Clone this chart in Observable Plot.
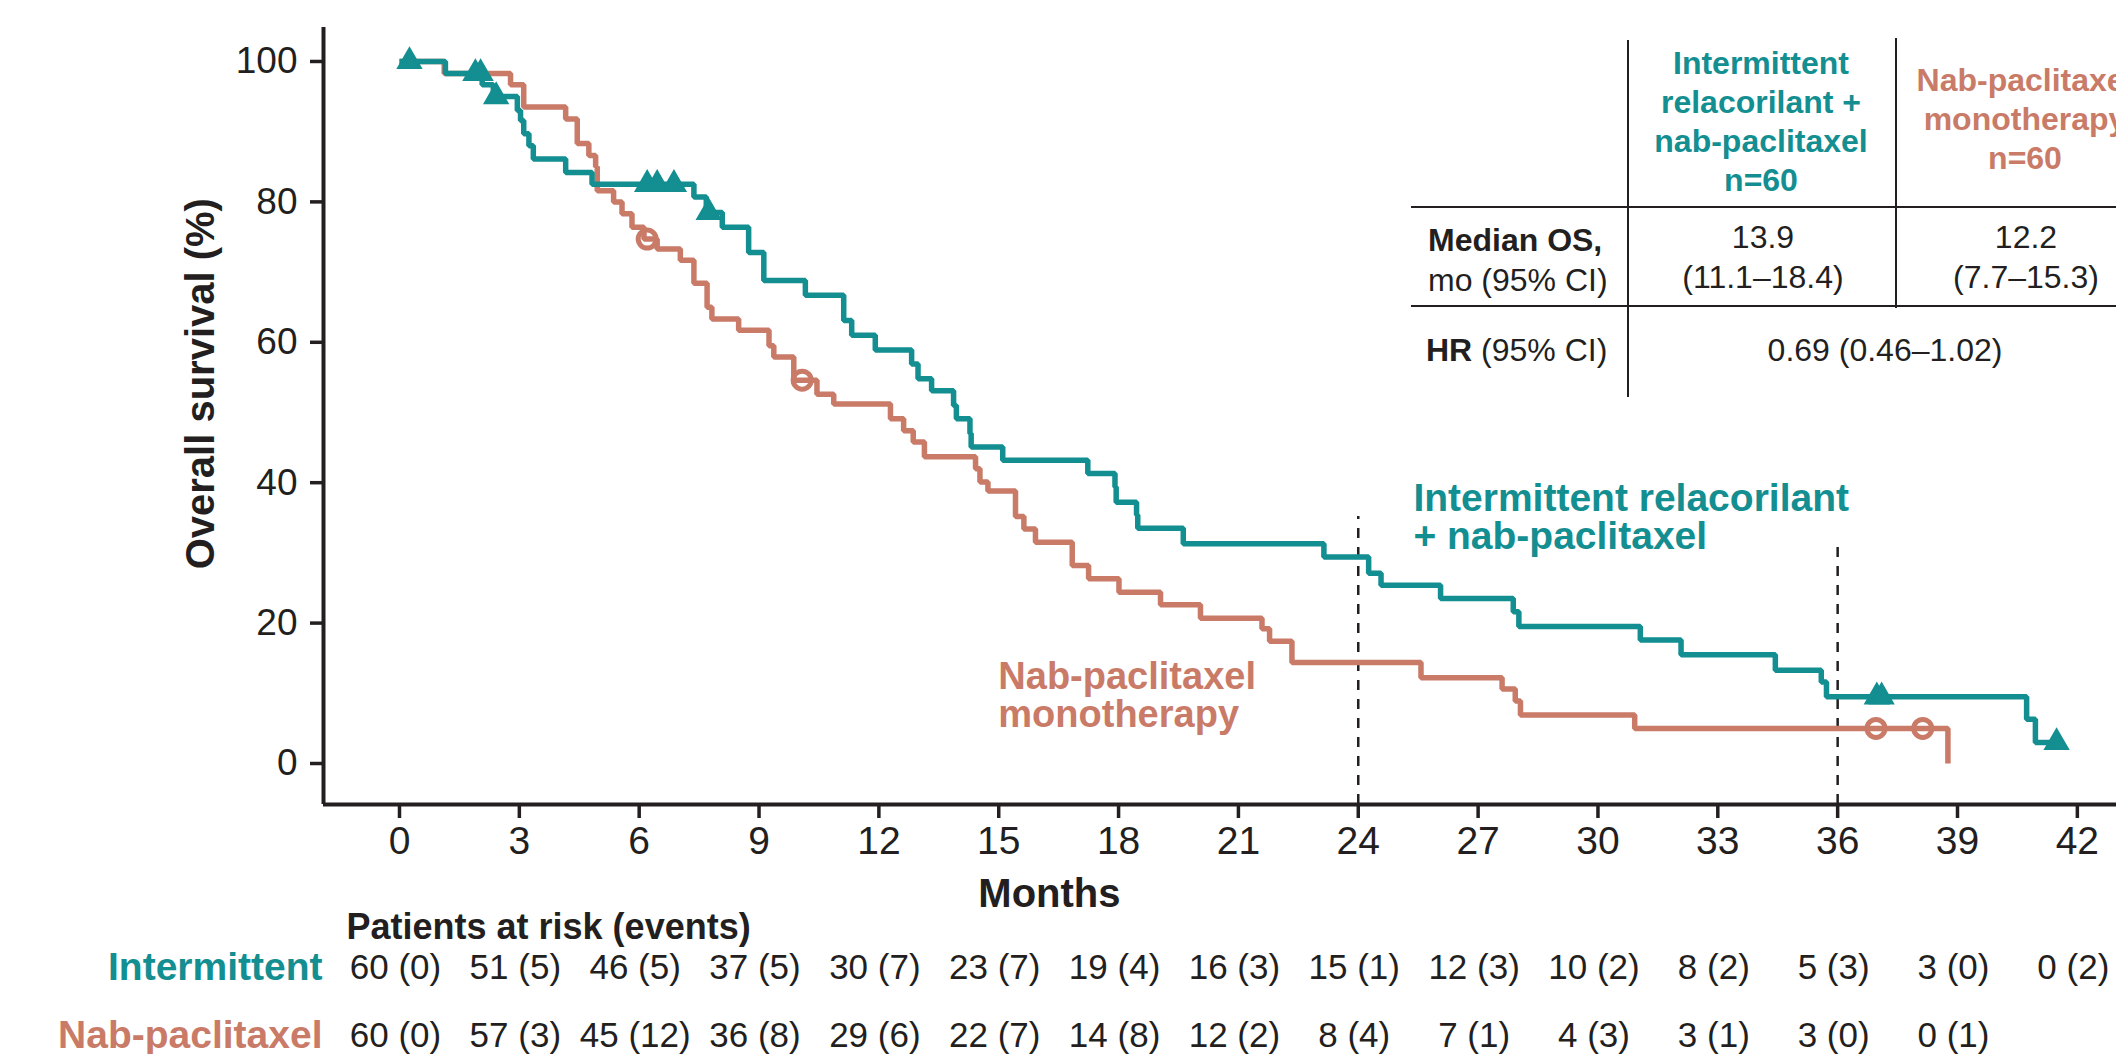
<!DOCTYPE html>
<html><head><meta charset="utf-8">
<script src="https://cdn.jsdelivr.net/npm/d3@7"></script>
<script src="https://cdn.jsdelivr.net/npm/@observablehq/plot@0.6"></script>
<style>
html,body{margin:0;padding:0;background:#fff;}
#wrap{position:relative;width:2116px;height:1054px;overflow:hidden;font-family:"Liberation Sans",Arial,Helvetica,sans-serif;color:#231f20;}
#wrap svg{position:absolute;left:0;top:0;}
</style></head><body><div id="wrap"></div>
<script>
// ---------- data ----------
const monthTicks = [0,3,6,9,12,15,18,21,24,27,30,33,36,39,42];
const survTicks = [0,20,40,60,80,100];

// Intermittent relacorilant + nab-paclitaxel: step times (months) and survival (%) after each step
const tealStepMonths = [1.15,2.07,2.35,2.95,3.03,3.11,3.24,3.35,4.16,4.82,7.37,7.68,8.08,8.74,9.12,10.16,11.12,11.32,11.91,12.82,12.98,13.32,13.87,13.94,14.28,14.31,15.1,17.23,17.91,17.94,18.45,18.48,19.62,23.14,24.26,24.57,26.06,27.88,28.02,31.06,32.08,34.44,35.59,35.72,40.73,40.95];
const tealStepSurv = [98.3,96.7,95.0,93.0,91.6,89.7,88.0,86.1,84.2,82.5,80.7,78.5,76.4,72.8,68.8,66.7,63.1,61.0,58.9,56.9,54.8,53.1,51.0,49.1,47.0,45.1,43.2,41.3,39.4,37.2,35.4,33.5,31.3,29.4,27.1,25.4,23.5,21.6,19.5,17.6,15.5,13.3,11.6,9.5,6.3,3.0];
const tealCensorMonths = [0.25,1.90,2.03,2.42,6.20,6.45,6.87,7.74,36.98,37.10,41.48];

// Nab-paclitaxel monotherapy
const salmonStepMonths = [1.12,2.78,3.11,4.16,4.45,4.74,4.91,4.95,5.36,5.57,5.82,6.12,6.45,7.03,7.37,7.70,7.82,8.49,9.25,9.37,9.87,10.45,10.87,12.29,12.62,12.86,13.14,14.42,14.53,14.73,15.42,15.63,15.92,16.84,17.25,18.01,19.05,20.05,21.59,21.78,22.34,25.57,27.60,27.93,28.06,30.92,38.76];
const salmonStepSurv = [98.3,96.7,93.5,91.8,88.3,86.6,85.0,81.6,80.0,78.3,76.4,74.7,73.3,71.7,68.4,65.0,63.3,61.7,59.5,57.9,54.6,52.6,51.2,49.1,47.4,45.8,43.7,42.0,40.1,38.8,35.2,33.4,31.5,28.2,26.3,24.4,22.6,20.7,19.2,17.4,14.4,12.2,10.6,8.9,6.9,5.0,0];
const salmonCensorMonths = [6.20,10.08,36.96,38.13];

// landmark lines (month, top %)
const landmarkMonths = [24,36];
const landmarkTops = [35.2,32.0];

// patients at risk (events)
const riskMonths = monthTicks;
const intermittentAtRisk = [60,51,46,37,30,23,19,16,15,12,10,8,5,3,0];
const intermittentEvents = [0,5,5,5,7,7,4,3,1,3,2,2,3,0,2];
const nabAtRisk = [60,57,45,36,29,22,14,12,8,7,4,3,3,0];
const nabEvents = [0,3,12,8,6,7,8,2,4,1,3,1,0,1];

// summary table
const armHeaders = ["Intermittent\nrelacorilant +\nnab-paclitaxel\nn=60", "Nab-paclitaxel\nmonotherapy\nn=60"];
const medianOS = ["13.9","12.2"];
const medianCI = ["(11.1–18.4)","(7.7–15.3)"];
const hrValue = "0.69 (0.46–1.02)";

// ---------- styling ----------
const TEAL = "#138e91", SALMON = "#c97b68", INK = "#231f20";
const FONT = '"Liberation Sans", Arial, Helvetica, sans-serif';
const xMin = -1.902, xMax = 42.98, yMin = -5.84, yMax = 104.84;

function stepPoints(ms, ss, endMonth) {
  const pts = [{t: 0, s: 100}];
  ms.forEach((t, i) => pts.push({t, s: ss[i]}));
  if (endMonth != null) pts.push({t: endMonth, s: ss[ss.length - 1]});
  return pts;
}
function levelAt(ms, ss, t) {
  let s = 100;
  for (let i = 0; i < ms.length; i++) if (ms[i] <= t) s = ss[i];
  return s;
}
const tealPts = stepPoints(tealStepMonths, tealStepSurv, tealCensorMonths[tealCensorMonths.length - 1]);
const salmonPts = stepPoints(salmonStepMonths, salmonStepSurv, null);
const tealCens = tealCensorMonths.map(t => ({t, s: levelAt(tealStepMonths, tealStepSurv, t)}));
const salmonCens = salmonCensorMonths.map(t => ({t, s: levelAt(salmonStepMonths, salmonStepSurv, t)}));
const landmarks = landmarkMonths.map((m, i) => ({m, top: landmarkTops[i]}));

const riskRow1 = intermittentAtRisk.map((n, i) => ({m: riskMonths[i], label: `${n} (${intermittentEvents[i]})`}));
const riskRow2 = nabAtRisk.map((n, i) => ({m: riskMonths[i], label: `${n} (${nabEvents[i]})`}));

const ROW_HEAD_Y = -23.36, ROW1_Y = -29.06, ROW2_Y = -38.75;

const chart = Plot.plot({
  width: 2116, height: 1054,
  marginLeft: 323, marginRight: 0, marginTop: 27, marginBottom: 250,
  style: {fontFamily: FONT, color: INK, background: "transparent", overflow: "visible"},
  x: {domain: [xMin, xMax], label: null},
  y: {domain: [yMin, yMax], label: null},
  marks: [
    Plot.ruleX(landmarks, {x: "m", y1: yMin, y2: "top", stroke: INK, strokeWidth: 2.5, strokeDasharray: "10,9"}),
    Plot.line(salmonPts, {x: "t", y: "s", curve: "step-after", stroke: SALMON, strokeWidth: 5.5, strokeLinejoin: "miter", strokeLinecap: "butt"}),
    Plot.line(tealPts, {x: "t", y: "s", curve: "step-after", stroke: TEAL, strokeWidth: 5.5, strokeLinejoin: "miter", strokeLinecap: "butt"}),
    Plot.dot(salmonCens, {x: "t", y: "s", r: 9, stroke: SALMON, strokeWidth: 5, fill: "none"}),
    Plot.dot(tealCens, {x: "t", y: "s", symbol: "triangle", r: 8.5, fill: TEAL, stroke: TEAL, strokeWidth: 2, strokeLinejoin: "miter"}),
    Plot.axisX({ticks: monthTicks, tickSize: 14, tickPadding: 8, fontSize: 39, strokeWidth: 3.5, tickFormat: d => String(d), label: null}),
    Plot.axisY({ticks: survTicks, tickSize: 13, tickPadding: 13, fontSize: 37, strokeWidth: 3.5, tickFormat: d => String(d), label: null}),
    Plot.ruleY([yMin], {stroke: INK, strokeWidth: 4}),
    Plot.ruleX([xMin], {stroke: INK, strokeWidth: 4}),
    // axis titles
    Plot.text([{x: xMin, y: 54.1, t: "Overall survival (%)"}], {x: "x", y: "y", text: "t", rotate: -90, dx: -122, fontSize: 40, fontWeight: "bold", fill: INK}),
    Plot.text([{x: 16.27, y: -20.51, t: "Months"}], {x: "x", y: "y", text: "t", lineAnchor: "bottom", fontSize: 40, fontWeight: "bold", fill: INK}),
    // curve labels
    Plot.text([{x: 25.38, y: 39.84, t: "Intermittent relacorilant\n+ nab-paclitaxel"}], {x: "x", y: "y", text: "t", textAnchor: "start", lineAnchor: "top", lineHeight: 0.98, fontSize: 39, fontWeight: "bold", fill: TEAL}),
    Plot.text([{x: 14.99, y: 14.43, t: "Nab-paclitaxel\nmonotherapy"}], {x: "x", y: "y", text: "t", textAnchor: "start", lineAnchor: "top", lineHeight: 1.0, fontSize: 38, fontWeight: "bold", fill: SALMON}),
    // risk table
    Plot.text([{x: xMin, y: ROW_HEAD_Y, t: "Patients at risk (events)"}], {x: "x", y: "y", text: "t", textAnchor: "start", dx: 23, fontSize: 36, fontWeight: "bold", fill: INK}),
    Plot.text([{x: xMin, y: ROW1_Y, t: "Intermittent"}], {x: "x", y: "y", text: "t", textAnchor: "end", dx: -1, fontSize: 39, fontWeight: "bold", fill: TEAL}),
    Plot.text([{x: xMin, y: ROW2_Y, t: "Nab-paclitaxel"}], {x: "x", y: "y", text: "t", textAnchor: "end", dx: -1, fontSize: 39, fontWeight: "bold", fill: SALMON}),
    Plot.text(riskRow1, {x: "m", y: () => ROW1_Y, text: "label", dx: -4, fontSize: 35, fill: INK}),
    Plot.text(riskRow2, {x: "m", y: () => ROW2_Y, text: "label", dx: -4, fontSize: 35, fill: INK})
  ]
});
const wrap = document.getElementById("wrap");
wrap.appendChild(chart);

// ---------- summary table (overlay) ----------
function place(text, x, y, {anchor = "middle", size = 32, weight = "normal", color = INK, lh = 39} = {}) {
  const d = document.createElement("div");
  d.textContent = text;
  let css = `position:absolute;white-space:pre;font-size:${size}px;font-weight:${weight};color:${color};line-height:${lh}px;top:${y - lh / 2}px;left:${x}px;`;
  if (anchor === "middle") css += "transform:translateX(-50%);text-align:center;";
  d.style.cssText = css;
  wrap.appendChild(d);
  return d;
}
function place2(parts, x, y) {
  const d = document.createElement("div");
  d.style.cssText = `position:absolute;white-space:pre;font-size:32px;color:${INK};line-height:39px;top:${y - 19.5}px;left:${x}px;`;
  parts.forEach(([txt, w]) => { const s = document.createElement("span"); s.textContent = txt; s.style.fontWeight = w; d.appendChild(s); });
  wrap.appendChild(d);
}
function line(x1, y1, x2, y2) {
  const d = document.createElement("div");
  const w = 2;
  if (y1 === y2) d.style.cssText = `position:absolute;background:${INK};left:${x1}px;top:${y1 - w / 2}px;width:${x2 - x1}px;height:${w}px;`;
  else d.style.cssText = `position:absolute;background:${INK};left:${x1 - w / 2}px;top:${y1}px;width:${w}px;height:${y2 - y1}px;`;
  wrap.appendChild(d);
}
line(1628, 40, 1628, 397);
line(1896, 38, 1896, 308);
line(1411, 207, 2116, 207);
line(1411, 306, 2116, 306);
place(armHeaders[0], 1761, 63, {weight: "bold", color: TEAL});
place(armHeaders[1], 2025, 80, {weight: "bold", color: SALMON});
place2([["Median OS,", "bold"]], 1428, 240);
place2([["mo (95% CI)", "normal"]], 1428, 280);
place(medianOS[0], 1763, 237);
place(medianCI[0], 1763, 277);
place(medianOS[1], 2026, 237);
place(medianCI[1], 2026, 277);
place2([["HR", "bold"], [" (95% CI)", "normal"]], 1426, 350);
place(hrValue, 1885, 350);
</script></body></html>
